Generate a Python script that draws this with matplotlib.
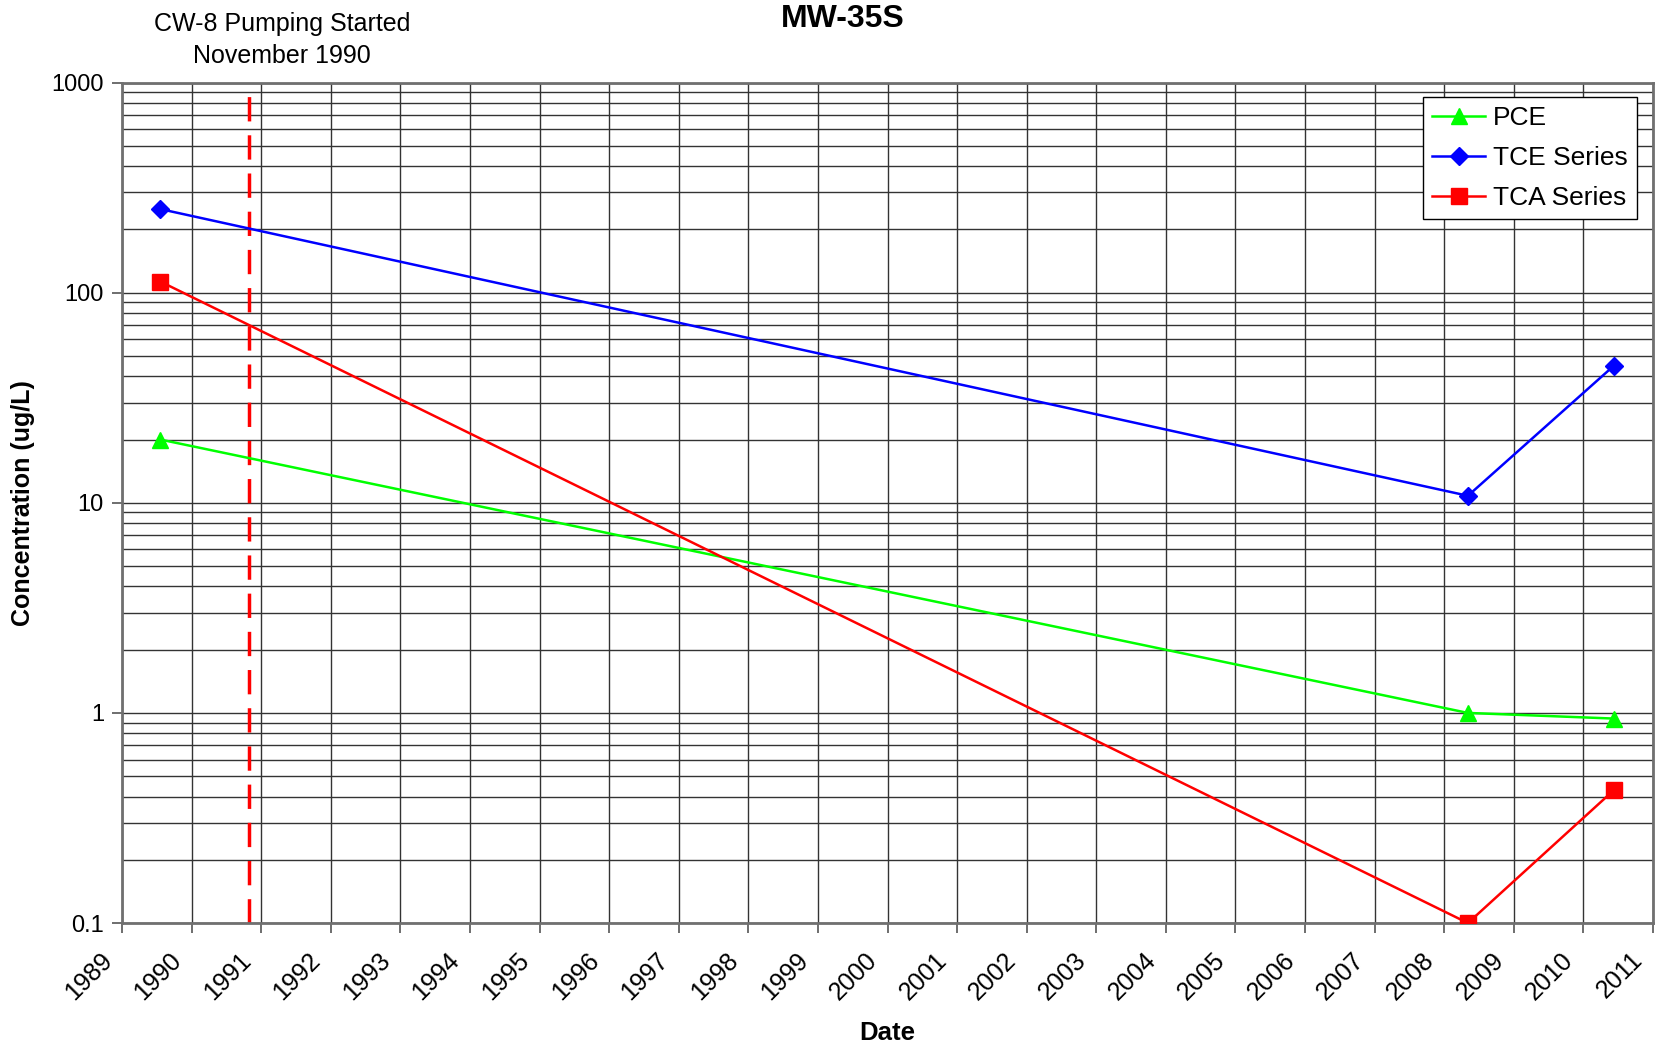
import numpy as np
import matplotlib.pyplot as plt
import matplotlib.transforms as mtransforms
from matplotlib.ticker import FixedLocator, LogLocator, NullFormatter

plt.rcParams["font.family"] = ["Liberation Sans", "DejaVu Sans"]

# sample dates as decimal years
dates = [1989.55, 2008.34, 2010.44]
pce = [20, 1.0, 0.94]
tce = [250, 10.8, 45]
tca = [113, 0.1, 0.43]

pumping_start = 1990.83
years = list(range(1989, 2012))

fig = plt.figure(figsize=(16.58, 10.45), dpi=100)
ax = fig.add_axes([0.0736, 0.1167, 0.9234, 0.8043])

ax.set_yscale("log")
ax.set_ylim(0.1, 1000)
ax.set_xlim(1989, 2011)

# grid: every year, every log step
ax.xaxis.set_major_locator(FixedLocator(years))
ax.set_xticklabels([str(y) for y in years])
ax.yaxis.set_major_locator(LogLocator(base=10, numticks=10))
ax.yaxis.set_minor_locator(LogLocator(base=10, subs=np.arange(2, 10), numticks=10))
ax.yaxis.set_minor_formatter(NullFormatter())
ax.set_yticks([0.1, 1, 10, 100, 1000])
ax.set_yticklabels(["0.1", "1", "10", "100", "1000"])
ax.grid(True, which="major", axis="both", color="#333333", lw=1.0)
ax.grid(True, which="minor", axis="y", color="#333333", lw=1.0)
ax.tick_params(axis="both", which="major", direction="out", length=7,
               color="#555555", width=1.2, labelsize=17)
ax.tick_params(axis="y", which="minor", length=0)
ax.tick_params(axis="y", pad=6)
ax.tick_params(axis="x", pad=17, labelrotation=45, labelsize=18)
ax.set_axisbelow(True)
for s in ax.spines.values():
    s.set_color("#707070")
    s.set_linewidth(2)

# rotated year labels, end of text a bit left of the tick
shift = mtransforms.ScaledTranslation(-0.14, 0, fig.dpi_scale_trans)
for lab in ax.get_xticklabels():
    lab.set_ha("right")
    lab.set_va("center")
    lab.set_rotation_mode("anchor")
    lab.set_transform(lab.get_transform() + shift)

ax.axvline(pumping_start, color="#ff0000", lw=2.5, ls=(0, (7, 4)), zorder=2)

ax.plot(dates, pce, color="#00ff00", lw=1.8, marker="^", ms=12, label="PCE", zorder=3)
ax.plot(dates, tce, color="#0000ff", lw=1.8, marker="D", ms=9, label="TCE Series", zorder=3)
ax.plot(dates, tca, color="#ff0000", lw=1.8, marker="s", ms=11, label="TCA Series", zorder=3)

leg = ax.legend(loc="upper right", bbox_to_anchor=(0.9895, 0.983), fontsize=19,
                fancybox=False, framealpha=1, edgecolor="black",
                handlelength=2.0, handletextpad=0.3, borderpad=0.35,
                labelspacing=0.6, borderaxespad=0)
leg.get_frame().set_linewidth(1.0)

ax.set_ylabel("Concentration (ug/L)", fontsize=18, fontweight="bold")
ax.yaxis.set_label_coords(-0.057, 0.5)
ax.set_xlabel("Date", fontsize=18.5, fontweight="bold", va="top")
ax.xaxis.set_label_coords(0.5, -0.1165)

fig.text(0.508, 0.982, "MW-35S", ha="center", va="center", fontsize=23,
         fontweight="bold")
fig.text(0.170, 0.962, "CW-8 Pumping Started\nNovember 1990", ha="center",
         va="center", fontsize=18, linespacing=1.4)

fig.savefig("out.png", dpi=100)
